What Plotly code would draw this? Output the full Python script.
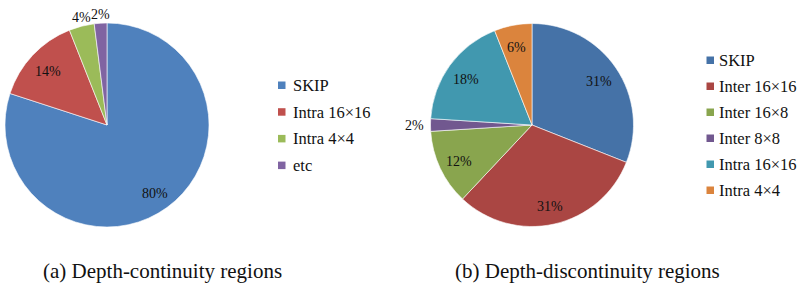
import math
import plotly.graph_objects as go

# Left pie: depth-continuity regions
left_labels = ["SKIP", "Intra 16×16", "Intra 4×4", "etc"]
left_values = [80, 14, 4, 2]
left_colors = ["#4F81BD", "#C0504D", "#9BBB59", "#8064A2"]
left_outside = [False, False, True, True]

# Right pie: depth-discontinuity regions
right_labels = ["SKIP", "Inter 16×16", "Inter 16×8", "Inter 8×8", "Intra 16×16", "Intra 4×4"]
right_values = [31, 31, 12, 2, 18, 6]
right_colors = ["#4572A7", "#AA4643", "#89A54E", "#71588F", "#4198AF", "#DB843D"]
right_outside = [False, False, False, True, False, False]

captions = ["(a) Depth-continuity regions", "(b) Depth-discontinuity regions"]

W, H = 800, 286
FONT = "Liberation Serif, Times New Roman, serif"
TXT = "#111111"


def px(x):
    return x / W


def py(y):
    return 1 - y / H


fig = go.Figure()

pies = [
    dict(labels=left_labels, values=left_values, colors=left_colors, outside=left_outside,
         cx=107, cy=125, r=102,
         leg_x=278, leg_y0=85, leg_dy=26.7, leg_tx=13),
    dict(labels=right_labels, values=right_values, colors=right_colors, outside=right_outside,
         cx=532, cy=125, r=101.5,
         leg_x=706.5, leg_y0=60, leg_dy=26, leg_tx=10),
]

for p in pies:
    cx, cy, r = p["cx"], p["cy"], p["r"]
    fig.add_trace(go.Pie(
        labels=p["labels"], values=p["values"], sort=False, direction="clockwise",
        rotation=0, marker=dict(colors=p["colors"], line=dict(color="white", width=0.6)),
        textinfo="none", showlegend=False, hoverinfo="label+percent",
        domain=dict(x=[px(cx - r), px(cx + r)], y=[py(cy + r), py(cy - r)]),
    ))
    total = sum(p["values"])
    cum = 0
    for lab, v, col, out in zip(p["labels"], p["values"], p["colors"], p["outside"]):
        mid = (cum + v / 2) / total * 2 * math.pi
        cum += v
        s, c = math.sin(mid), math.cos(mid)
        pct = f"{round(100 * v / total)}%"
        if out:
            xa = "right" if s < -0.5 else ("left" if s > 0.5 else "center")
            ya = "bottom" if c > 0.5 else ("top" if c < -0.5 else "middle")
            rr = r * (0.99 if xa == "center" else 1.04)
        else:
            rr = r * 0.8
            xa, ya = "center", "middle"
        fig.add_annotation(
            text=pct, x=px(cx + rr * s), y=py(cy - rr * c + (2 if not out else 0)),
            xref="paper", yref="paper",
            showarrow=False, xanchor=xa, yanchor=ya,
            font=dict(family=FONT, size=14, color=TXT),
        )
    # legend
    for i, (lab, col) in enumerate(zip(p["labels"], p["colors"])):
        yc = p["leg_y0"] + i * p["leg_dy"]
        x0 = p["leg_x"]
        fig.add_shape(type="rect", xref="paper", yref="paper",
                      x0=px(x0), x1=px(x0 + 7.5), y0=py(yc + 4), y1=py(yc - 3.5),
                      fillcolor=col, line=dict(width=0))
        fig.add_annotation(
            text=lab, x=px(x0 + p["leg_tx"]), y=py(yc + 0.5), xref="paper", yref="paper",
            showarrow=False, xanchor="left", yanchor="middle",
            font=dict(family=FONT, size=16.5, color=TXT),
        )

for cap, xc in zip(captions, [162.5, 587.5]):
    fig.add_annotation(
        text=cap, x=px(xc), y=py(271), xref="paper", yref="paper",
        showarrow=False, xanchor="center", yanchor="middle",
        font=dict(family=FONT, size=21, color=TXT),
    )

fig.update_layout(
    width=W, height=H, margin=dict(l=0, r=0, t=0, b=0),
    paper_bgcolor="white", plot_bgcolor="white", showlegend=False,
)

# remove the browser's default 8px body margin so the figure fills the window
fig.write_html("out.html", config={"displayModeBar": False},
               post_script="document.body.style.margin='0';")
